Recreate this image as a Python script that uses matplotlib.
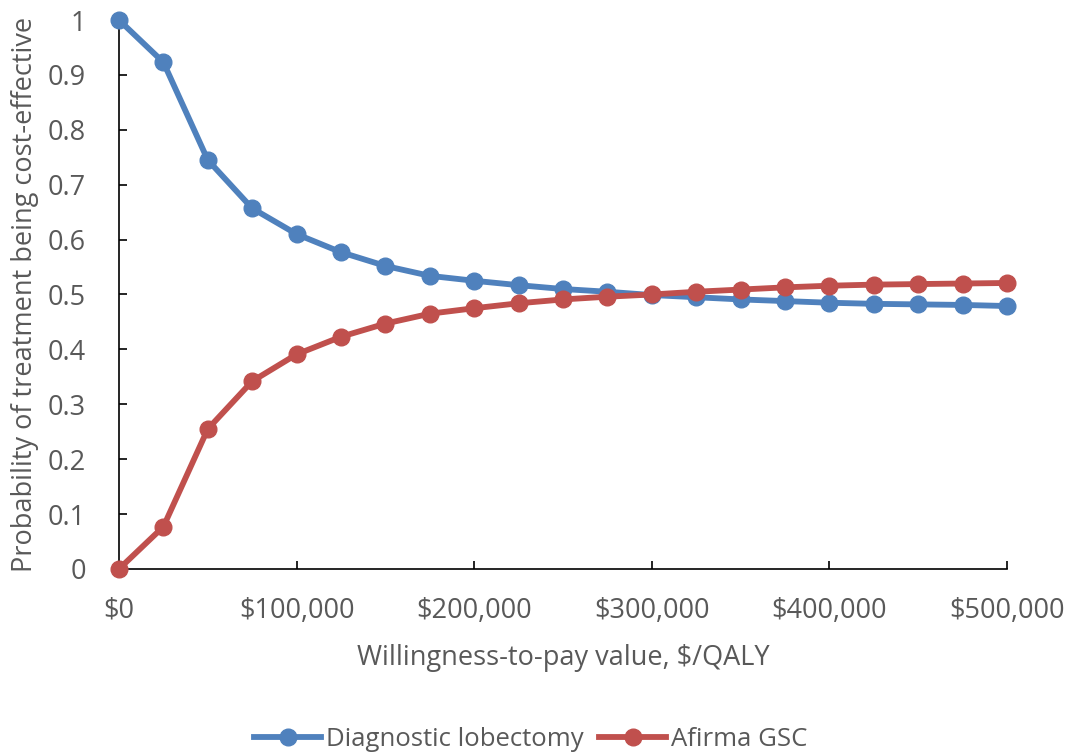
import numpy as np
import matplotlib.pyplot as plt

# willingness-to-pay thresholds ($/QALY)
wtp = np.arange(0, 500001, 25000)
lobectomy = [1.000, 0.923, 0.745, 0.657, 0.610, 0.577, 0.552, 0.534, 0.525, 0.517, 0.510,
             0.505, 0.499, 0.495, 0.491, 0.488, 0.485, 0.483, 0.482, 0.481, 0.479]
afirma = [0.000, 0.077, 0.255, 0.342, 0.391, 0.423, 0.447, 0.465, 0.475, 0.484, 0.491,
          0.496, 0.500, 0.505, 0.509, 0.513, 0.516, 0.518, 0.519, 0.520, 0.521]
xticks = np.arange(0, 500001, 100000)
yticks = np.round(np.arange(0, 1.01, 0.1), 1)

plt.rcParams['font.family'] = ['Open Sans', 'DejaVu Sans']
txt = '#595959'
fs = 19.5

fig = plt.figure(figsize=(10.73, 7.53), dpi=100)
ax = fig.add_axes([0.1109, 0.2444, 0.8276, 0.729])

ax.plot(wtp, lobectomy, '-o', color='#4F81BD', lw=4.2, ms=12, label='Diagnostic lobectomy', clip_on=False, zorder=3)
ax.plot(wtp, afirma, '-o', color='#C0504D', lw=4.2, ms=12, label='Afirma GSC', clip_on=False, zorder=3)

ax.set_xlim(0, 500000)
ax.set_ylim(0, 1)
ax.set_xticks(xticks)
ax.set_xticklabels(['$0' if v == 0 else '${:,}'.format(v) for v in xticks])
ax.set_yticks(yticks)
ax.set_yticklabels(['0' if v == 0 else ('1' if v == 1 else '{:g}'.format(v)) for v in yticks])
ax.tick_params(axis='both', direction='in', length=6, width=1.2, colors='black',
               labelcolor=txt, labelsize=fs)
ax.tick_params(axis='x', pad=20)
ax.tick_params(axis='y', pad=24)
for s in ['top', 'right']:
    ax.spines[s].set_visible(False)
for s in ['left', 'bottom']:
    ax.spines[s].set_linewidth(1.2)

ax.set_xlabel('Willingness-to-pay value, $/QALY', fontsize=fs, color=txt, labelpad=14)
ax.set_ylabel('Probability of treatment being cost-effective', fontsize=fs, color=txt, labelpad=6)

fig.legend(loc='lower center', bbox_to_anchor=(0.495, -0.03), ncol=2, frameon=False,
           fontsize=18.5, labelcolor=txt, handlelength=2.6, columnspacing=0.6, handletextpad=0.2)

fig.savefig('out.png', dpi=100)
